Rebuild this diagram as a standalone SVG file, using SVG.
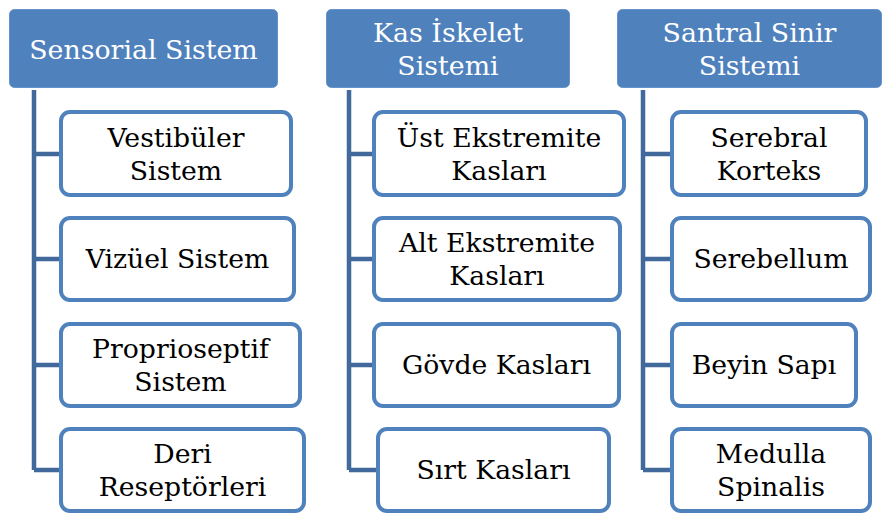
<svg xmlns="http://www.w3.org/2000/svg" width="885" height="514" viewBox="0 0 885 514">
<style>
.hdr{fill:#4F81BD;stroke:#6492CB;stroke-width:1}
.box{fill:#fff;stroke:#4F81BD;stroke-width:4}
.ht{font-family:"DejaVu Serif","Liberation Serif",serif;font-size:26.8px;fill:#fff;text-anchor:middle}
.bt{font-family:"DejaVu Serif","Liberation Serif",serif;font-size:26.7px;fill:#000;text-anchor:middle}
.con{fill:none;stroke:#41699B;stroke-width:4.5}
</style>
<rect width="885" height="514" fill="#fff"/>
<g id="connectors">
<path class="con" d="M34 90V470M34 154H61M34 259H61M34 365H61M34 470H61"/>
<path class="con" d="M349 90V470M349 154H374M349 259H374M349 365H374M349 470H378"/>
<path class="con" d="M643 90V470M643 154H672M643 259H672M643 365H672M643 470H672"/>
</g>
<g id="h1"><rect class="hdr" x="9.5" y="9.5" width="268" height="78" rx="5"/><text class="ht" x="143.5" y="59">Sensorial Sistem</text></g>
<g id="h2"><rect class="hdr" x="326.5" y="9.5" width="243" height="78" rx="5"/><text class="ht" x="448" y="42">Kas İskelet</text><text class="ht" x="448" y="75">Sistemi</text></g>
<g id="h3"><rect class="hdr" x="617.5" y="9.5" width="264" height="78" rx="5"/><text class="ht" x="749.5" y="42">Santral Sinir</text><text class="ht" x="749.5" y="75">Sistemi</text></g>

<g id="c1a"><rect class="box" x="61" y="112" width="230" height="83" rx="9"/><text class="bt" x="176" y="147">Vestibüler</text><text class="bt" x="176" y="180">Sistem</text></g>
<g id="c1b"><rect class="box" x="61" y="218" width="233" height="82" rx="9"/><text class="bt" x="177.5" y="268">Vizüel Sistem</text></g>
<g id="c1c"><rect class="box" x="61" y="324" width="239" height="82" rx="9"/><text class="bt" x="180.5" y="358">Proprioseptif</text><text class="bt" x="180.5" y="391">Sistem</text></g>
<g id="c1d"><rect class="box" x="61" y="429" width="243" height="82" rx="9"/><text class="bt" x="182.5" y="463">Deri</text><text class="bt" x="182.5" y="496">Reseptörleri</text></g>

<g id="c2a"><rect class="box" x="374" y="112" width="250" height="83" rx="9"/><text class="bt" x="499" y="147">Üst Ekstremite</text><text class="bt" x="499" y="180">Kasları</text></g>
<g id="c2b"><rect class="box" x="374" y="218" width="246" height="82" rx="9"/><text class="bt" x="497" y="252">Alt Ekstremite</text><text class="bt" x="497" y="285">Kasları</text></g>
<g id="c2c"><rect class="box" x="374" y="324" width="245" height="82" rx="9"/><text class="bt" x="496.5" y="374">Gövde Kasları</text></g>
<g id="c2d"><rect class="box" x="378" y="429" width="231" height="82" rx="9"/><text class="bt" x="493.5" y="479">Sırt Kasları</text></g>

<g id="c3a"><rect class="box" x="672" y="112" width="194" height="83" rx="9"/><text class="bt" x="769" y="147">Serebral</text><text class="bt" x="769" y="180">Korteks</text></g>
<g id="c3b"><rect class="box" x="672" y="218" width="198" height="82" rx="9"/><text class="bt" x="771" y="268">Serebellum</text></g>
<g id="c3c"><rect class="box" x="672" y="324" width="184" height="82" rx="9"/><text class="bt" x="764" y="374">Beyin Sapı</text></g>
<g id="c3d"><rect class="box" x="672" y="429" width="198" height="82" rx="9"/><text class="bt" x="771" y="463">Medulla</text><text class="bt" x="771" y="496">Spinalis</text></g>
</svg>
